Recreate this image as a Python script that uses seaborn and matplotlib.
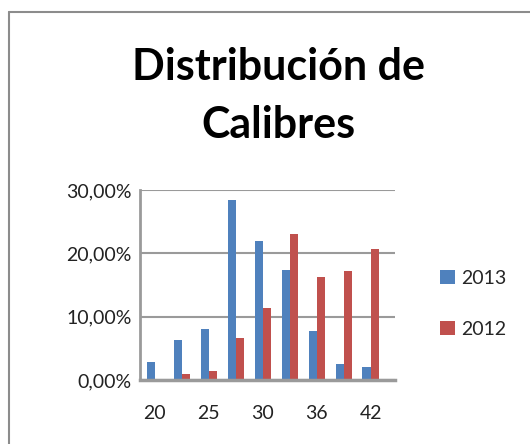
import matplotlib
matplotlib.use("Agg")
import matplotlib.pyplot as plt
import matplotlib.ticker as mticker
import seaborn as sns
import pandas as pd

# datos
calibres = ["20", "23", "25", "28", "30", "32", "36", "40", "42"]
valores_2013 = [2.9, 6.3, 8.1, 28.4, 21.9, 17.3, 7.7, 2.6, 2.1]
valores_2012 = [0.1, 0.9, 1.4, 6.7, 11.4, 23.1, 16.3, 17.2, 20.7]
tick_labels = ["20", "", "25", "", "30", "", "36", "", "42"]

sns.set_theme(style="white")
plt.rcParams['font.family'] = ['Lato', 'DejaVu Sans']

df = pd.DataFrame({
    "calibre": calibres * 2,
    "valor": valores_2013 + valores_2012,
    "serie": ["2013"] * len(calibres) + ["2012"] * len(calibres),
})

fig = plt.figure(figsize=(5.30, 4.44), dpi=100)
ax = fig.add_axes([0.264, 0.144, 0.481, 0.428])

sns.barplot(data=df, x="calibre", y="valor", hue="serie", order=calibres,
            hue_order=["2013", "2012"], palette=["#4F81BD", "#C0504D"],
            width=0.6, gap=0, ax=ax, legend=True, edgecolor="none",
            saturation=1)

ax.set_ylim(0, 30)
ax.set_xlim(-0.55, 8.9)
ax.set_yticks([0, 10, 20, 30])
ax.yaxis.set_major_formatter(mticker.FuncFormatter(lambda v, p: f"{v:.2f}%".replace(".", ",")))
ax.set_xticks(range(len(calibres)))
ax.set_xticklabels(tick_labels)
ax.tick_params(axis="both", labelsize=14, colors="#222222", length=0)
ax.tick_params(axis="y", pad=6)
ax.tick_params(axis="x", pad=18)
ax.set_xlabel("")
ax.set_ylabel("")
ax.yaxis.grid(True, color="#9a9a9a", linewidth=1.5)
ax.set_axisbelow(True)
for s in ["top", "right"]:
    ax.spines[s].set_visible(False)
ax.spines["left"].set_color("#9a9a9a")
ax.spines["left"].set_linewidth(2)
ax.spines["bottom"].set_color("#9a9a9a")
ax.spines["bottom"].set_linewidth(2.5)

leg = ax.legend(loc="center left", bbox_to_anchor=(1.11, 0.40), frameon=False,
                fontsize=14, handlelength=0.75, handleheight=0.75,
                labelspacing=1.75, handletextpad=0.3)

fig.text(0.526, 0.85, "Distribución de", ha="center", va="center",
         fontsize=31, fontweight="bold", color="black")
fig.text(0.526, 0.718, "Calibres", ha="center", va="center",
         fontsize=31, fontweight="bold", color="black")

# borde del área del gráfico
fig.add_artist(plt.Line2D([9 / 530, 9 / 530], [0, 1 - 12 / 444], color="#8c8c8c", lw=1.5))
fig.add_artist(plt.Line2D([9 / 530, 1], [1 - 12 / 444, 1 - 12 / 444], color="#8c8c8c", lw=1.5))

fig.savefig("out.png", dpi=100, facecolor="white")
plt.close(fig)
